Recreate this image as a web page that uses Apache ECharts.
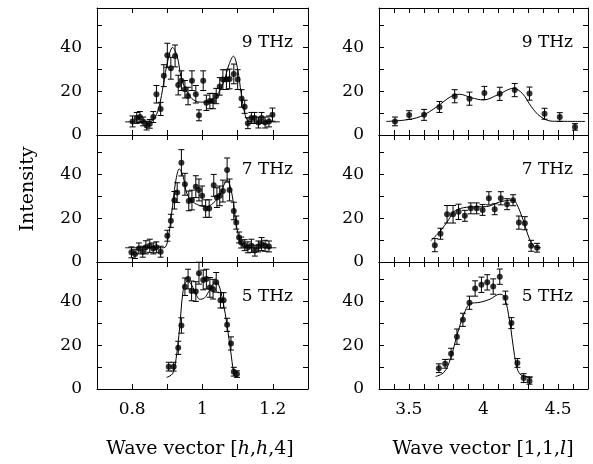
<!DOCTYPE html>
<html>
<head>
<meta charset="utf-8">
<script src="https://cdn.jsdelivr.net/npm/echarts@6/dist/echarts.min.js"></script>
<style>
html, body { margin: 0; padding: 0; background: #fff; }
#main { width: 593px; height: 464px; }
</style>
</head>
<body>
<div id="main"></div>
<script>
// measured points [x, intensity, error] and fitted curves, per panel
var hh9 = [[0.801,6.2,2.5],[0.813,7.8,2.5],[0.822,8.2,2.5],[0.831,6.2,2],[0.841,4.3,2],[0.850,5.1,2],[0.860,8.2,2.5],[0.869,18.6,4],[0.881,11.9,3],[0.890,27.1,5],[0.900,36.4,5.5],[0.910,30.5,5],[0.922,36.1,5],[0.931,22.8,4.5],[0.940,24.8,4.5],[0.950,20.9,4],[0.959,17.8,4],[0.970,24.8,4.5],[0.981,18.6,4],[0.990,9.0,2.5],[1.002,24.8,4.5],[1.011,14.7,3.5],[1.021,15.5,3.5],[1.030,15.5,3.5],[1.039,17.8,3.5],[1.049,22.2,4],[1.058,25.3,4.5],[1.068,25.3,4.5],[1.077,25.6,4.5],[1.089,27.9,4.5],[1.100,25.3,4.5],[1.111,16.7,4],[1.120,12.9,3],[1.129,5.4,2.5],[1.139,7.8,2.5],[1.148,7.8,2.5],[1.159,5.7,2.5],[1.168,7.8,2.5],[1.178,5.7,2.5],[1.189,6.2,2.5],[1.199,9.3,3]];
var hh9Fit = [[0.78,6],[0.84,6],[0.86,7],[0.875,12],[0.89,24],[0.90,33],[0.915,40],[0.928,36],[0.94,26],[0.96,18.5],[0.98,15.5],[1.0,15],[1.02,15.5],[1.04,18],[1.06,24],[1.075,32],[1.088,36],[1.10,30],[1.11,19],[1.12,10],[1.13,6.5],[1.15,6],[1.22,6]];

var hh7 = [[0.798,4.4,2.5],[0.808,3.6,2],[0.819,6.2,2.5],[0.830,4.7,2.5],[0.839,6.7,3],[0.850,7.4,3],[0.860,6.2,2.5],[0.869,6.7,2.5],[0.881,4.7,2.5],[0.900,12,2.5],[0.910,18.8,3],[0.920,28.2,4],[0.928,31.7,4.5],[0.940,45.3,6],[0.950,35.5,5],[0.961,27.9,4.5],[0.970,28.3,4.5],[0.981,34.4,5],[0.990,32.9,5],[0.999,30.2,4.5],[1.009,24.4,4],[1.019,24.4,4],[1.032,35.0,5],[1.041,29.4,4.5],[1.049,30.2,4.5],[1.058,32.4,5],[1.070,42.0,5.5],[1.077,32.9,5],[1.089,23.3,4],[1.096,18.0,3],[1.104,11.2,2.5],[1.110,8.9,2.5],[1.120,7.7,2.5],[1.129,6.7,2.5],[1.139,7.4,3],[1.149,5.2,2.5],[1.159,7.1,2.5],[1.168,8.2,3],[1.178,7.4,2.5],[1.189,7.1,2.5]];
var hh7Fit = [[0.78,6.5],[0.89,6.5],[0.90,9],[0.912,22],[0.924,37],[0.934,42.5],[0.945,39],[0.955,31.5],[0.973,27.5],[0.992,25.8],[1.011,25.3],[1.03,26.8],[1.049,30.5],[1.062,35.5],[1.07,37.5],[1.078,35],[1.087,28],[1.096,17],[1.108,9],[1.12,6.7],[1.14,6.5],[1.21,6.5]];

var hh5 = [[0.904,10.2,2],[0.918,10.2,2],[0.931,18.8,3],[0.940,29.0,3.5],[0.950,46.7,4],[0.959,50.2,4.5],[0.969,44.8,4.5],[0.981,44.5,4.5],[0.990,52.9,5],[1.002,49.8,4.5],[1.011,50.2,4.5],[1.021,46.4,4.5],[1.030,45.6,4.5],[1.039,48.7,4.5],[1.051,40.5,3.5],[1.060,40.5,3.5],[1.070,29.3,3],[1.081,20.8,3],[1.089,7.9,2],[1.098,6.8,1.5]];
var hh5Fit = [[0.898,5.3],[0.915,7],[0.925,14],[0.935,28],[0.945,45],[0.955,49],[0.965,48.5],[0.98,44],[0.992,41],[1.005,41.5],[1.02,45],[1.035,48.5],[1.045,48],[1.058,40],[1.07,29],[1.082,15],[1.091,6],[1.1,5.3]];

var ll9 = [[3.407,6.2,2],[3.502,9.1,2],[3.602,9.2,2.5],[3.705,12.8,2.5],[3.807,17.7,3],[3.906,16.6,3],[4.006,19.2,3],[4.109,18.8,3],[4.209,20.5,3],[4.308,18.9,3],[4.409,9.7,2.5],[4.511,8.2,2],[4.613,3.7,1.5]];
var ll9Fit = [[3.35,6.2],[3.47,6.8],[3.58,8.5],[3.69,13],[3.78,17.5],[3.84,18.6],[3.92,17],[4.0,16],[4.1,18.5],[4.2,21.3],[4.26,19],[4.32,13],[4.38,8.5],[4.46,6.3],[4.68,6.2]];

var ll7 = [[3.674,7.7,3],[3.712,12.9,2.5],[3.756,21.8,4],[3.796,21.8,4],[3.833,22.9,3.5],[3.875,21.1,2.5],[3.915,24.5,2.5],[3.954,24.5,2.5],[3.994,23.8,2.5],[4.036,29.1,3],[4.075,24.1,2.5],[4.116,29.1,3],[4.158,26.4,2.5],[4.198,28.2,2.5],[4.237,18.0,3],[4.277,17.7,3],[4.319,7.4,2.5],[4.359,6.5,2]];
var ll7Fit = [[3.646,9.7],[3.712,14.2],[3.768,19.5],[3.80,22.9],[3.866,24.8],[3.954,25.2],[4.02,25.3],[4.108,27.4],[4.196,28.3],[4.22,26.8],[4.264,19.5],[4.308,10.5],[4.34,7.1],[4.385,6.5]];

var ll5 = [[3.701,9.5,2],[3.743,11.5,2],[3.783,16.1,2.5],[3.822,23.9,3.5],[3.862,31.6,3],[3.906,39.4,3],[3.944,45.9,3.5],[3.986,47.6,3.5],[4.025,48.7,3.5],[4.065,46.8,3.5],[4.109,51.3,3.5],[4.147,41.7,3],[4.187,30.1,2.5],[4.227,11.9,2],[4.269,5.0,2],[4.308,3.7,1.5]];
var ll5Fit = [[3.679,5.7],[3.735,7.6],[3.779,13.8],[3.823,24.7],[3.868,34],[3.907,38.8],[3.977,39.6],[4.043,41],[4.109,43.3],[4.14,42],[4.175,31],[4.208,15.3],[4.23,8.4],[4.263,6],[4.33,5.6]];

var panelLabels = ['9 THz', '7 THz', '5 THz'];

var font = 'DejaVu Serif';
var colLeft = [97, 379], colWidth = [211, 209];
var rowTop = [8, 135, 262], rowH = 127;
var xRange = [[0.7, 1.3], [3.3, 4.7]];

var panels = [
    { pts: hh9, fit: hh9Fit, col: 0, row: 0 },
    { pts: hh7, fit: hh7Fit, col: 0, row: 1 },
    { pts: hh5, fit: hh5Fit, col: 0, row: 2 },
    { pts: ll9, fit: ll9Fit, col: 1, row: 0 },
    { pts: ll7, fit: ll7Fit, col: 1, row: 1 },
    { pts: ll5, fit: ll5Fit, col: 1, row: 2 }
];

var myChart = echarts.init(document.getElementById('main'));

var grids = [], xAxes = [], yAxes = [], series = [], graphics = [];

panels.forEach(function (p, i) {
    grids.push({ left: colLeft[p.col], top: rowTop[p.row], width: colWidth[p.col], height: rowH });

    // bottom/left axes carry labels, top/right ones only mirror the ticks
    [false, true].forEach(function (mirror) {
        xAxes.push({
            type: 'value', gridIndex: i, position: mirror ? 'top' : 'bottom',
            min: xRange[p.col][0], max: xRange[p.col][1], interval: 0.1,
            axisLine: { show: true, onZero: false, lineStyle: { color: '#000', width: 1 } },
            axisTick: { show: true, inside: true, length: 5, lineStyle: { color: '#000' } },
            splitLine: { show: false },
            axisLabel: {
                show: !mirror && p.row === 2, margin: 12,
                color: '#000', fontFamily: font, fontSize: 17,
                formatter: function (v) {
                    var k = Math.round(v * 10);
                    var ok = p.col === 0 ? (k % 2 === 0) : (k % 5 === 0);
                    return ok ? String(k / 10) : '';
                }
            }
        });
        yAxes.push({
            type: 'value', gridIndex: i, position: mirror ? 'right' : 'left',
            min: 0, max: 58, interval: 10,
            axisLine: { show: true, onZero: false, lineStyle: { color: '#000', width: 1 } },
            axisTick: { show: true, inside: true, length: 5, lineStyle: { color: '#000' } },
            splitLine: { show: false },
            axisLabel: {
                show: !mirror, margin: 15,
                color: '#000', fontFamily: font, fontSize: 17,
                formatter: function (v) { return (v % 20 === 0) ? String(v) : ''; }
            }
        });
    });

    var xi = 2 * i, yi = 2 * i;

    series.push({
        type: 'line', xAxisIndex: xi, yAxisIndex: yi,
        data: p.fit, smooth: 0.35, showSymbol: false, symbol: 'none',
        lineStyle: { color: '#000', width: 1 }, silent: true, z: 2
    });

    // error bars
    series.push({
        type: 'custom', xAxisIndex: xi, yAxisIndex: yi,
        data: p.pts.map(function (d) { return [d[0], d[1] - d[2], d[1] + d[2]]; }),
        encode: { x: 0, y: [1, 2] },
        renderItem: function (params, api) {
            var lo = api.coord([api.value(0), api.value(1)]);
            var hi = api.coord([api.value(0), api.value(2)]);
            var w = 3;
            var st = { stroke: '#000', lineWidth: 1 };
            return {
                type: 'group', children: [
                    { type: 'line', shape: { x1: lo[0], y1: lo[1], x2: hi[0], y2: hi[1] }, style: st },
                    { type: 'line', shape: { x1: lo[0] - w, y1: lo[1], x2: lo[0] + w, y2: lo[1] }, style: st },
                    { type: 'line', shape: { x1: hi[0] - w, y1: hi[1], x2: hi[0] + w, y2: hi[1] }, style: st }
                ]
            };
        },
        silent: true, z: 3
    });

    series.push({
        type: 'scatter', xAxisIndex: xi, yAxisIndex: yi,
        data: p.pts.map(function (d) { return [d[0], d[1]]; }),
        symbol: 'circle', symbolSize: 6,
        itemStyle: { color: '#000' }, silent: true, z: 4
    });

    graphics.push({
        type: 'text',
        x: colLeft[p.col] + colWidth[p.col] - 15, y: rowTop[p.row] + 35,
        style: {
            text: panelLabels[p.row], fill: '#000', font: '17px "DejaVu Serif"',
            textAlign: 'right', textVerticalAlign: 'middle'
        }
    });
});

graphics.push({
    type: 'text', x: 28, y: 189, rotation: Math.PI / 2,
    style: { text: 'Intensity', fill: '#000', font: '19px "DejaVu Serif"', textAlign: 'center', textVerticalAlign: 'middle' }
});

var nameRich = {
    n: { fontFamily: font, fontSize: 19, color: '#000' },
    i: { fontFamily: font, fontSize: 19, fontStyle: 'italic', color: '#000' }
};
graphics.push({
    type: 'text', x: 200, y: 449,
    style: { text: '{n|Wave vector [}{i|h}{n|,}{i|h}{n|,4]}', textAlign: 'center', textVerticalAlign: 'middle', rich: nameRich }
});
graphics.push({
    type: 'text', x: 483, y: 449,
    style: { text: '{n|Wave vector [1,1,}{i|l}{n|]}', textAlign: 'center', textVerticalAlign: 'middle', rich: nameRich }
});

var option = {
    backgroundColor: '#fff',
    animation: false,
    grid: grids,
    xAxis: xAxes,
    yAxis: yAxes,
    series: series,
    graphic: graphics
};

myChart.setOption(option);
</script>
</body>
</html>
